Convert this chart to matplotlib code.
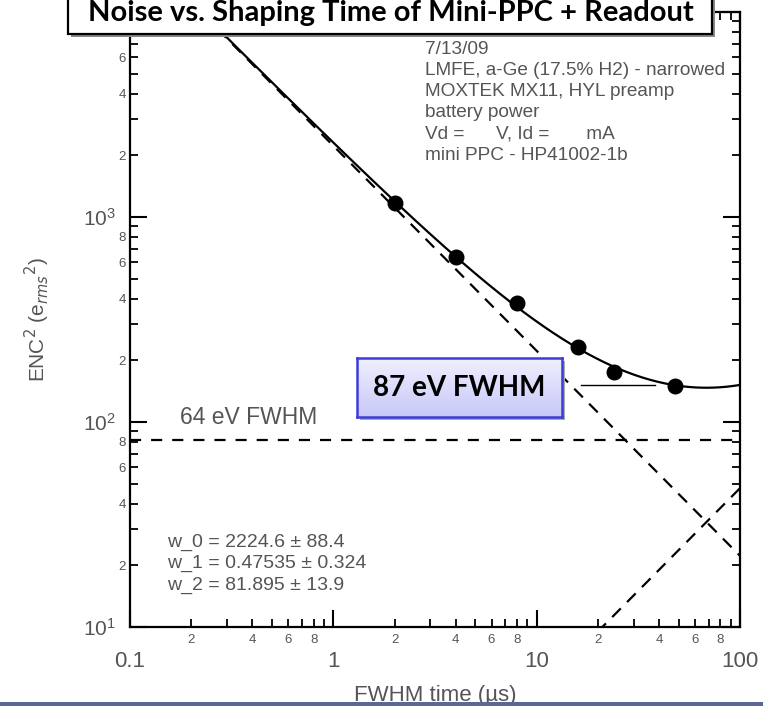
import numpy as np
import matplotlib
matplotlib.use('Agg')
import matplotlib.pyplot as plt
from matplotlib.patches import Rectangle
from matplotlib.colors import LinearSegmentedColormap
from matplotlib.ticker import LogLocator, FuncFormatter

# measured points (shaping time in us, ENC^2)
shaping_time = [2, 4, 8, 16, 24, 48]
enc2 = [1170, 638, 381, 232, 175, 150]

# fit parameters shown on the plot
w_0 = 2224.6
w_1 = 0.47535
w_2 = 81.895

# short line marking the minimum
min_line_x = [16.5, 38]
min_line_y = [152, 152]

info_lines = ['7/13/09',
              'LMFE, a-Ge (17.5% H2) - narrowed',
              'MOXTEK MX11, HYL preamp',
              'battery power',
              'Vd =      V, Id =       mA',
              'mini PPC - HP41002-1b']
fit_lines = ['w_0 = 2224.6 \u00b1 88.4',
             'w_1 = 0.47535 \u00b1 0.324',
             'w_2 = 81.895 \u00b1 13.9']

W, H = 763, 706
GRAY = '#555555'
plt.rcParams['font.family'] = ['Liberation Sans', 'DejaVu Sans']


def fx(px):
    return px / W


def fy(py):
    return 1 - py / H


fig = plt.figure(figsize=(W / 100, H / 100), dpi=100)
ax = fig.add_axes([fx(130), fy(627), fx(740) - fx(130), fy(12) - fy(627)])
ax.set_xscale('log')
ax.set_yscale('log')
ax.set_xlim(0.1, 100)
ax.set_ylim(10, 1e4)

t = np.logspace(-1, 2, 400)
series = w_0 / t
parallel = w_1 * t
total = series + parallel + w_2

ax.plot(t, total, color='black', lw=1.6)
ax.plot(t, series, color='black', lw=1.6, dashes=(5.5, 4))
ax.plot(t, parallel, color='black', lw=1.6, dashes=(5.5, 4))
ax.axhline(w_2, color='black', lw=1.6, dashes=(5, 4.5))
ax.plot(min_line_x, min_line_y, color='black', lw=1.0)
ax.plot(shaping_time, enc2, 'o', color='black', ms=10.5)

# ticks
for s in ax.spines.values():
    s.set_linewidth(1.6)
ax.xaxis.set_minor_locator(LogLocator(base=10, subs=range(2, 10), numticks=20))
ax.yaxis.set_minor_locator(LogLocator(base=10, subs=range(2, 10), numticks=20))


def minor_label(v, pos):
    m = v / 10 ** np.floor(np.log10(v) + 1e-9)
    k = int(round(m))
    return str(k) if k in (2, 4, 6, 8) else ''


def y_major_label(v, pos):
    e = int(round(np.log10(v)))
    if e > 3:
        return ''  # hidden under the title box anyway
    return r'$\mathregular{10^{%d}}$' % e


ax.xaxis.set_major_formatter(FuncFormatter(lambda v, p: '%g' % v))
ax.yaxis.set_major_formatter(FuncFormatter(y_major_label))
ax.xaxis.set_minor_formatter(FuncFormatter(minor_label))
ax.yaxis.set_minor_formatter(FuncFormatter(minor_label))

ax.tick_params(which='both', direction='in', top=True, right=True,
               colors='black', labelcolor=GRAY)
ax.tick_params(which='major', length=12, width=1.5)
ax.tick_params(which='minor', length=6, width=1.3)
ax.tick_params(axis='x', which='major', labelsize=16, pad=17)
ax.tick_params(axis='x', which='minor', labelsize=9.5, pad=5)
ax.tick_params(axis='y', which='major', labelsize=15, pad=10)
ax.tick_params(axis='y', which='minor', labelsize=9.5, pad=3)

ax.set_xlabel('FWHM time (\u00b5s)', fontsize=16, color=GRAY)
ax.xaxis.set_label_coords(0.5, -0.095)
ax.set_ylabel(r'ENC$^2$ (e$_{rms}$$^2$)', fontsize=15, color=GRAY)
ax.yaxis.set_label_coords(-0.128, 0.5)

# annotations in the plot
for i, line in enumerate(info_lines):
    fig.text(fx(425), fy(49 + 21.3 * i), line, fontsize=13.7, color=GRAY,
             va='center', ha='left')
for i, line in enumerate(fit_lines):
    fig.text(fx(167), fy(542 + 21.5 * i), line, fontsize=14, color=GRAY,
             va='center', ha='left')
fig.text(fx(180), fy(418), '64 eV FWHM', fontsize=16.5, color=GRAY,
         va='center', ha='left')

# title box
fig.add_artist(Rectangle((fx(71), fy(37)), fx(712) - fx(68), fy(-5) - fy(34),
                         transform=fig.transFigure, facecolor='#888888',
                         edgecolor='none', zorder=9))
fig.add_artist(Rectangle((fx(68), fy(34)), fx(712) - fx(68), fy(-5) - fy(34),
                         transform=fig.transFigure, facecolor='white',
                         edgecolor='black', lw=1.6, zorder=10))
fig.text(fx(391), fy(21), 'Noise vs. Shaping Time of Mini-PPC + Readout',
         fontsize=21, fontweight='bold', family='Lato', color='black',
         ha='center', va='baseline', zorder=11)

# 87 eV box with gradient
fig.add_artist(Rectangle((fx(360), fy(420)), fx(562) - fx(357), fy(358) - fy(417),
                         transform=fig.transFigure, facecolor='#aaaaaa',
                         edgecolor='none', zorder=9))
bax = fig.add_axes([fx(357), fy(417), fx(562) - fx(357), fy(358) - fy(417)], zorder=10)
grad = np.linspace(0, 1, 64).reshape(-1, 1)
bax.imshow(grad, cmap=LinearSegmentedColormap.from_list('g', ['#f0f0ff', '#c8c8f8']),
           aspect='auto', extent=(0, 1, 0, 1))
bax.set_xticks([])
bax.set_yticks([])
for s in bax.spines.values():
    s.set_edgecolor('#3c3cd8')
    s.set_linewidth(1.8)
bax.text(0.5, 0.5, '87 eV FWHM', fontsize=20, fontweight='bold', family='Lato',
         ha='center', va='center', transform=bax.transAxes)

# slide edge at the bottom
fig.add_artist(Rectangle((0, 0), 1, fy(702), transform=fig.transFigure,
                         facecolor='#5a6896', edgecolor='none', zorder=12))

fig.savefig('out.png', dpi=100)
